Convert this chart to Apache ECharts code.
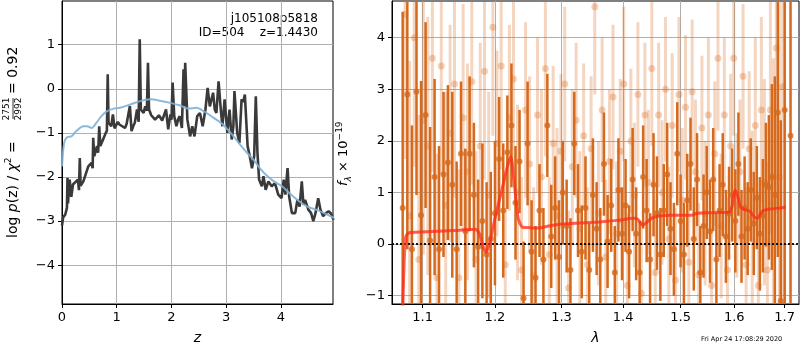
<!DOCTYPE html>
<html>
<head>
<meta charset="utf-8">
<script src="https://cdn.jsdelivr.net/npm/echarts@6/dist/echarts.min.js"></script>
<style>
  html, body { margin: 0; padding: 0; background: #fff; }
  #chart { width: 800px; height: 350px; }
</style>
</head>
<body>
<div id="chart"></div>
<script>
// left panel: redshift grid and log p(z)
var zGrid = [0.00, 0.02, 0.06, 0.09, 0.10, 0.11, 0.14, 0.17, 0.20, 0.23, 0.29, 0.31, 0.325, 0.34, 0.39, 0.41, 0.48, 0.54, 0.56, 0.57,
  0.59, 0.64, 0.66, 0.68, 0.70, 0.75, 0.80, 0.82, 0.835, 0.85, 0.90, 0.93, 0.96, 0.99, 1.02, 1.05, 1.10, 1.15, 1.18, 1.21,
  1.24, 1.27, 1.30, 1.33, 1.37, 1.40, 1.42, 1.44, 1.49, 1.52, 1.55, 1.57, 1.59, 1.63, 1.66, 1.70, 1.73, 1.77, 1.79, 1.83,
  1.85, 1.90, 1.94, 1.98, 2.00, 2.02, 2.05, 2.09, 2.12, 2.15, 2.19, 2.22, 2.24, 2.25, 2.29, 2.34, 2.38, 2.42, 2.47, 2.52,
  2.57, 2.62, 2.66, 2.70, 2.76, 2.79, 2.82, 2.86, 2.90, 2.93, 2.97, 3.02, 3.06, 3.10, 3.13, 3.15, 3.20, 3.24, 3.28, 3.31,
  3.34, 3.39, 3.43, 3.47, 3.51, 3.54, 3.57, 3.60, 3.65, 3.68, 3.72, 3.77, 3.83, 3.89, 3.95, 4.01, 4.05, 4.08, 4.12, 4.15,
  4.20, 4.26, 4.30, 4.34, 4.38, 4.41, 4.44, 4.50, 4.55, 4.59, 4.63, 4.68, 4.72, 4.77, 4.82, 4.87, 4.91, 4.96];
var logPz = [-3.10, -2.92, -2.85, -2.70, -2.02, -2.60, -2.06, -2.45, -2.17, -2.20, -2.06, -2.30, -1.57, -2.20, -2.10, -2.06, -1.76, -1.68, -1.80, -1.11,
  -1.53, -1.30, -1.45, -0.85, -1.30, -1.15, -1.00, -0.95, 0.33, -0.77, -0.85, -0.58, -0.90, -0.89, -0.75, -0.81, -0.85, -0.89, -0.80, -0.77,
  -0.39, -0.96, -0.85, -0.77, -0.47, -0.75, 1.12, -0.47, -0.55, -0.40, -0.50, 0.59, -0.47, -0.60, -0.58, -0.70, -0.70, -0.60, -0.58, -0.72,
  -0.70, -0.47, -0.92, -0.58, -0.70, 0.14, -0.62, -0.85, -0.70, -0.62, -0.89, 0.44, -0.40, 0.59, -0.70, -1.08, -0.85, -1.08, -0.62, -0.55,
  -0.85, -0.47, 0.02, -0.40, -0.09, -0.47, -0.55, 0.17, -0.47, -0.85, -0.24, -1.00, -0.47, -1.15, -0.85, -0.05, -1.00, -1.23, -0.24, -0.30,
  -0.13, -1.30, -1.53, -1.80, -1.53, -0.17, -1.45, -2.06, -2.21, -1.98, -2.29, -2.10, -2.21, -2.14, -2.40, -2.48, -2.06, -2.40, -1.80, -2.45,
  -2.82, -2.82, -2.52, -2.67, -2.10, -2.63, -2.52, -2.74, -2.82, -3.00, -2.82, -2.48, -2.74, -2.89, -2.82, -2.78, -2.82, -2.97];
// smooth chi2 curve
var zChi = [0.00, 0.03, 0.06, 0.11, 0.17, 0.26, 0.39, 0.46, 0.54, 0.63, 0.72, 0.81, 0.94, 1.06, 1.24, 1.43, 1.61, 1.79, 1.98, 2.16,
  2.31, 2.46, 2.59, 2.77, 2.92, 3.08, 3.23, 3.38, 3.50, 3.63, 3.75, 3.87, 4.02, 4.18, 4.33, 4.48, 4.64, 4.79, 4.97];
var chiCurve = [-1.76, -1.30, -1.15, -1.09, -1.08, -0.96, -0.85, -0.85, -0.89, -0.77, -0.62, -0.52, -0.45, -0.43, -0.36, -0.28, -0.24, -0.27, -0.32, -0.38,
  -0.45, -0.43, -0.51, -0.66, -0.79, -1.00, -1.23, -1.45, -1.61, -1.83, -1.98, -2.10, -2.21, -2.40, -2.55, -2.67, -2.74, -2.82, -2.93];

// right panel: spectrum (wavelength in micron)
var lamA = [1.074, 1.080, 1.086, 1.092, 1.098, 1.104, 1.110, 1.116, 1.122, 1.128, 1.134, 1.140, 1.146, 1.152, 1.158, 1.164, 1.170, 1.176, 1.182, 1.188,
  1.194, 1.200, 1.206, 1.212, 1.218, 1.224, 1.230, 1.236, 1.242, 1.248, 1.254, 1.260, 1.266, 1.272, 1.278, 1.284, 1.290, 1.296, 1.302, 1.308,
  1.314, 1.320, 1.326, 1.332, 1.338, 1.344, 1.350, 1.356, 1.362, 1.368, 1.374, 1.380, 1.386, 1.392, 1.398, 1.404, 1.410, 1.416, 1.422, 1.428,
  1.434, 1.440, 1.446, 1.452, 1.458, 1.464, 1.470, 1.476, 1.482, 1.488, 1.494, 1.500, 1.506, 1.512, 1.518, 1.524, 1.530, 1.536, 1.542, 1.548,
  1.554, 1.560, 1.566, 1.572, 1.578, 1.584, 1.590, 1.596, 1.602, 1.608, 1.614, 1.620, 1.626, 1.632, 1.638, 1.644, 1.650, 1.656, 1.662, 1.668,
  1.674, 1.680, 1.686, 1.692, 1.700, 1.712];
var fluxA = [0.70, 2.90, -0.10, 2.95, 0.56, 2.50, 0.07, 1.30, -0.10, 1.35, 1.58, 1.15, -0.10, 1.75, 0.25, 1.75, 0.95, -0.05, 0.45, -0.20,
  0.10, 0.60, 1.65, 0.65, 1.78, 2.30, 0.80, 1.60, -1.05, 1.95, -0.15, -0.65, 0.65, -0.30, 2.30, 0.15, 0.70, -0.25, 1.00, 0.35,
  -0.50, 1.95, 0.65, -0.15, 0.70, -0.50, 0.95, 0.30, -0.30, 1.55, 0.05, 0.75, -0.55, 1.05, 0.20, 0.75, -0.15, 1.25, 0.20, -0.55,
  1.30, 0.65, -0.30, 1.15, 0.60, -0.20, 0.65, 1.35, 0.30, -0.10, 1.75, 0.45, -0.20, 0.85, 1.55, 0.10, 1.25, -0.55, 0.35, 1.00,
  0.25, 1.25, -0.30, 0.65, 1.15, 0.15, 0.60, 0.95, 0.45, 1.55, 0.15, 0.70, 0.30, 1.05, 0.40, 0.90, 0.20, 0.55, 1.15, 1.10,
  1.30, 0.95, 2.55, -1.10, 2.60, 2.10];
var errA = [3.8, 3.0, 2.4, 2.0, 2.6, 1.8, 2.2, 1.9, 2.0, 1.6, 1.5, 1.8, 1.7, 1.4, 1.6, 1.5, 1.4, 1.3, 1.5, 1.4,
  1.3, 1.4, 1.2, 1.3, 1.1, 1.2, 1.1, 1.0, 1.1, 1.2, 1.0, 1.0, 0.9, 1.0, 1.0, 1.0, 1.0, 1.1, 1.0, 0.9,
  1.0, 1.0, 0.9, 0.9, 1.0, 0.9, 1.1, 0.9, 1.0, 1.0, 0.9, 0.9, 0.9, 1.0, 0.9, 0.9, 0.9, 1.0, 0.9, 1.0,
  1.0, 1.0, 0.9, 1.0, 1.1, 0.9, 0.9, 1.0, 0.9, 0.9, 1.0, 0.9, 1.0, 0.9, 0.9, 1.0, 0.9, 0.9, 1.0, 0.9,
  1.0, 1.0, 0.9, 0.9, 1.0, 0.9, 0.9, 0.9, 1.0, 1.0, 0.9, 1.0, 0.9, 1.0, 1.0, 1.0, 1.1, 1.1, 1.2, 1.4,
  1.8, 2.3, 2.8, 3.5, 5.0, 6.0];

// second (faint) set of spectrum points
var lamB = [1.077, 1.083, 1.089, 1.095, 1.101, 1.107, 1.113, 1.119, 1.125, 1.131, 1.137, 1.143, 1.149, 1.155, 1.161, 1.167, 1.173, 1.179, 1.185, 1.191,
  1.197, 1.203, 1.209, 1.215, 1.221, 1.227, 1.233, 1.239, 1.245, 1.251, 1.257, 1.263, 1.269, 1.275, 1.281, 1.287, 1.293, 1.299, 1.305, 1.311,
  1.317, 1.323, 1.329, 1.335, 1.341, 1.347, 1.353, 1.359, 1.365, 1.371, 1.377, 1.383, 1.389, 1.395, 1.401, 1.407, 1.413, 1.419, 1.425, 1.431,
  1.437, 1.443, 1.449, 1.455, 1.461, 1.467, 1.473, 1.479, 1.485, 1.491, 1.497, 1.503, 1.509, 1.515, 1.521, 1.527, 1.533, 1.539, 1.545, 1.551,
  1.557, 1.563, 1.569, 1.575, 1.581, 1.587, 1.593, 1.599, 1.605, 1.611, 1.617, 1.623, 1.629, 1.635, 1.641, 1.647, 1.653, 1.659, 1.665, 1.671,
  1.677, 1.683, 1.689, 1.696];
var fluxB = [4.45, 0.55, 4.00, -0.30, 2.40, 1.90, 3.60, -0.65, 3.45, 0.75, 2.15, 3.10, -0.65, 2.45, 1.40, 3.15, -0.30, 1.90, 3.35, 0.95,
  4.20, 1.95, 3.45, -0.40, 2.45, 3.20, 1.00, -0.50, 2.60, 1.55, -0.60, 2.50, 1.30, 3.40, -0.20, 1.95, 0.55, 1.80, 3.10, -0.85,
  1.50, 2.40, 0.30, 2.10, -0.40, 1.85, 4.60, 0.60, 2.60, -0.25, 1.60, 2.85, 0.20, 1.80, 3.10, -0.80, 2.00, 0.95, 2.90, -0.95,
  2.50, 1.20, 3.40, -0.55, 2.50, 1.00, 3.00, 0.10, 2.30, -0.70, 2.90, 0.85, 2.65, -0.35, 2.95, 1.40, -0.60, 2.25, 0.60, 2.50,
  -0.80, 1.75, 3.60, 0.35, 2.50, -0.50, 1.90, 3.60, 0.75, 1.40, 3.25, -0.40, 1.85, 0.50, 2.30, -0.80, 2.60, 1.20, -0.50, 2.60,
  0.80, 3.80, 1.30, 3.05];
var errB = [2.8, 3.0, 2.5, 2.8, 2.6, 2.5, 2.2, 2.4, 2.1, 2.2, 2.1, 2.2, 2.1, 2.2, 2.1, 2.0, 2.1, 2.0, 2.1, 2.0,
  2.1, 1.8, 2.0, 1.8, 1.8, 1.8, 1.7, 1.8, 1.7, 1.7, 1.7, 1.5, 1.7, 1.7, 1.5, 1.5, 1.7, 1.5, 1.5, 1.5,
  1.5, 1.5, 1.5, 1.4, 1.5, 1.4, 1.7, 1.4, 1.4, 1.5, 1.4, 1.4, 1.4, 1.4, 1.5, 1.4, 1.4, 1.4, 1.4, 1.4,
  1.4, 1.4, 1.5, 1.4, 1.4, 1.4, 1.4, 1.4, 1.4, 1.4, 1.5, 1.4, 1.4, 1.4, 1.4, 1.4, 1.4, 1.4, 1.4, 1.5,
  1.4, 1.4, 1.4, 1.4, 1.5, 1.4, 1.4, 1.5, 1.4, 1.4, 1.4, 1.5, 1.5, 1.7, 1.7, 1.8, 1.8, 2.0, 2.1, 2.4,
  2.8, 3.2, 3.9, 4.9];

// best-fit template
var lamModel = [1.074, 1.076, 1.078, 1.082, 1.090, 1.120, 1.150, 1.172, 1.178, 1.183, 1.187, 1.192, 1.200, 1.210, 1.218, 1.223, 1.228, 1.234, 1.240, 1.250,
  1.265, 1.280, 1.300, 1.330, 1.360, 1.390, 1.418, 1.425, 1.433, 1.440, 1.448, 1.460, 1.480, 1.500, 1.520, 1.530, 1.560, 1.590, 1.596, 1.601,
  1.606, 1.612, 1.620, 1.630, 1.640, 1.645, 1.655, 1.670, 1.690, 1.702];
var fluxModel = [-1.30, -0.30, 0.15, 0.22, 0.23, 0.25, 0.27, 0.29, 0.20, -0.05, -0.15, 0.00, 0.50, 1.05, 1.50, 1.70, 1.20, 0.50, 0.33, 0.32,
  0.31, 0.35, 0.39, 0.41, 0.43, 0.46, 0.50, 0.48, 0.37, 0.42, 0.50, 0.54, 0.56, 0.56, 0.56, 0.60, 0.61, 0.62, 0.75, 1.05,
  0.95, 0.72, 0.67, 0.64, 0.52, 0.50, 0.64, 0.68, 0.70, 0.72];

var zTicks = [0, 1, 2, 3, 4];
var pzTicks = [-4, -3, -2, -1, 0, 1];
var lamTicks = [1.1, 1.2, 1.3, 1.4, 1.5, 1.6, 1.7];
var fluxTicks = [-1, 0, 1, 2, 3, 4];

var ORANGE = '#d6691c';
var GRIDC = '#b0b0b0';
var FONT = 'DejaVu Sans';

function minus(v) {
  return v < 0 ? '\u2212' + Math.abs(v) : String(v);
}
function zip(a, b) {
  return a.map(function (v, i) { return [v, b[i]]; });
}
function zipLog(a, b, c) {
  return a.map(function (v, i) { return c ? [Math.log(v), b[i], c[i]] : [Math.log(v), b[i]]; });
}
// vertical error bar from y-e to y+e
function errBars(width, opacity) {
  return function (params, api) {
    var x = api.value(0), y = api.value(1), e = api.value(2);
    var p1 = api.coord([x, y - e]);
    var p2 = api.coord([x, y + e]);
    return {
      type: 'line',
      shape: { x1: p1[0], y1: p1[1], x2: p2[0], y2: p2[1] },
      style: { stroke: ORANGE, lineWidth: width, opacity: opacity }
    };
  };
}
function axisCommon(extra) {
  var base = {
    axisLine: { show: true, onZero: false, lineStyle: { color: '#000', width: 1 } },
    splitLine: { show: true, lineStyle: { color: GRIDC, width: 1 } },
    nameTextStyle: { fontFamily: FONT, fontSize: 14, fontStyle: 'italic', color: '#000' }
  };
  return Object.assign(base, extra);
}
function ticks(vals) {
  return { show: true, inside: false, length: 4, customValues: vals, lineStyle: { color: '#000' } };
}
function labels(vals, fmt) {
  return { customValues: vals, margin: 7, fontFamily: FONT, fontSize: 13, color: '#000', formatter: fmt };
}

var chart = echarts.init(document.getElementById('chart'), null, { renderer: 'canvas' });

var lamTickPos = lamTicks.map(Math.log);

var option = {
  animation: false,
  backgroundColor: '#fff',
  grid: [
    { left: 62, top: 1, width: 271, height: 303, show: true, borderColor: '#000', borderWidth: 1, backgroundColor: 'transparent' },
    { left: 392, top: 1, width: 407, height: 303, show: true, borderColor: '#000', borderWidth: 1, backgroundColor: 'transparent' }
  ],
  xAxis: [
    axisCommon({
      type: 'value', gridIndex: 0, min: 0, max: 4.95,
      name: 'z', nameLocation: 'middle', nameGap: 27,
      axisTick: ticks(zTicks), axisLabel: labels(zTicks, minus)
    }),
    axisCommon({
      type: 'value', gridIndex: 1, min: Math.log(1.0603), max: Math.log(1.7295),
      name: '\u03bb', nameLocation: 'middle', nameGap: 27,
      axisTick: ticks(lamTickPos),
      axisLabel: labels(lamTickPos, function (v) { return Math.exp(v).toFixed(1); })
    })
  ],
  yAxis: [
    axisCommon({
      type: 'value', gridIndex: 0, min: -4.88, max: 1.99,
      axisTick: ticks(pzTicks), axisLabel: labels(pzTicks, minus)
    }),
    axisCommon({
      type: 'value', gridIndex: 1, min: -1.16, max: 4.71,
      axisTick: ticks(fluxTicks), axisLabel: labels(fluxTicks, minus)
    })
  ],
  series: [
    {
      type: 'line', xAxisIndex: 0, yAxisIndex: 0, data: zip(zGrid, logPz),
      showSymbol: false, lineStyle: { color: '#3a3a3a', width: 2.6 }, z: 3
    },
    {
      type: 'line', xAxisIndex: 0, yAxisIndex: 0, data: zip(zChi, chiCurve), smooth: 0.3,
      showSymbol: false, lineStyle: { color: '#7fb1d6', width: 2, opacity: 0.9 }, z: 4
    },
    {
      type: 'custom', xAxisIndex: 1, yAxisIndex: 1, data: zipLog(lamB, fluxB, errB),
      renderItem: errBars(3, 0.28), clip: true, z: 2
    },
    {
      type: 'scatter', xAxisIndex: 1, yAxisIndex: 1, data: zipLog(lamB, fluxB),
      symbolSize: 7, itemStyle: { color: ORANGE, opacity: 0.3 }, clip: true, z: 2
    },
    {
      type: 'custom', xAxisIndex: 1, yAxisIndex: 1, data: zipLog(lamA, fluxA, errA),
      renderItem: errBars(2.5, 1), clip: true, z: 3
    },
    {
      type: 'scatter', xAxisIndex: 1, yAxisIndex: 1, data: zipLog(lamA, fluxA),
      symbolSize: 6, itemStyle: { color: ORANGE }, clip: true, z: 3,
      markLine: {
        silent: true, symbol: 'none', label: { show: false },
        lineStyle: { color: '#111', type: 'dotted', width: 2 },
        data: [{ yAxis: 0 }]
      }
    },
    {
      type: 'line', xAxisIndex: 1, yAxisIndex: 1, data: zipLog(lamModel, fluxModel),
      showSymbol: false, clip: true, smooth: 0.2,
      lineStyle: { color: '#ff2a1a', width: 3, opacity: 0.75 }, z: 5
    }
  ],
  graphic: [
    {
      type: 'text', right: 800 - 318, top: 13,
      style: { text: 'j105108p5818', font: '12px "DejaVu Sans"', fill: '#000', textAlign: 'right' }
    },
    {
      type: 'text', right: 800 - 318, top: 27,
      style: { text: 'ID=504    z=1.4430', font: '12px "DejaVu Sans"', fill: '#000', textAlign: 'right' }
    },
    {
      // rotated y label of the left panel
      type: 'group', x: 13, y: 238, rotation: Math.PI / 2,
      children: [
        {
          type: 'text', x: 0, y: 0,
          style: {
            text: '{n|log }{i|p}{n|(z) / }{i|\u03c7}{s|2}{n| =}',
            textAlign: 'left', textVerticalAlign: 'middle', fill: '#000',
            rich: {
              n: { fontFamily: FONT, fontSize: 14, lineHeight: 18 },
              i: { fontFamily: FONT, fontSize: 14, fontStyle: 'italic', lineHeight: 18 },
              s: { fontFamily: FONT, fontSize: 9, verticalAlign: 'top', lineHeight: 18 }
            }
          }
        },
        {
          type: 'text', x: 129, y: -6,
          style: { text: '2751', font: '9px "DejaVu Sans"', fill: '#000', textAlign: 'center', textVerticalAlign: 'middle' }
        },
        {
          type: 'line', shape: { x1: 119, y1: 0, x2: 140, y2: 0 },
          style: { stroke: '#000', lineWidth: 0.8 }
        },
        {
          type: 'text', x: 129, y: 6,
          style: { text: '2992', font: '9px "DejaVu Sans"', fill: '#000', textAlign: 'center', textVerticalAlign: 'middle' }
        },
        {
          type: 'text', x: 144, y: 0,
          style: { text: '= 0.92', font: '14px "DejaVu Sans"', fill: '#000', textAlign: 'left', textVerticalAlign: 'middle' }
        }
      ]
    },
    {
      type: 'group', x: 344, y: 186, rotation: Math.PI / 2,
      children: [
        {
          type: 'text', x: 0, y: 0,
          style: {
            text: '{i|f}{b|\u03bb}{n| \u00d7 10}{s|\u221219}',
            textAlign: 'left', textVerticalAlign: 'middle', fill: '#000',
            rich: {
              n: { fontFamily: FONT, fontSize: 13, lineHeight: 18 },
              i: { fontFamily: FONT, fontSize: 13, fontStyle: 'italic', lineHeight: 18 },
              b: { fontFamily: FONT, fontSize: 9, fontStyle: 'italic', verticalAlign: 'bottom', lineHeight: 18 },
              s: { fontFamily: FONT, fontSize: 9, verticalAlign: 'top', lineHeight: 18 }
            }
          }
        }
      ]
    },
    {
      type: 'text', left: 701, top: 336,
      style: { text: 'Fri Apr 24 17:08:29 2020', font: '6.5px "DejaVu Sans"', fill: '#000' }
    }
  ]
};

chart.setOption(option);
</script>
</body>
</html>
